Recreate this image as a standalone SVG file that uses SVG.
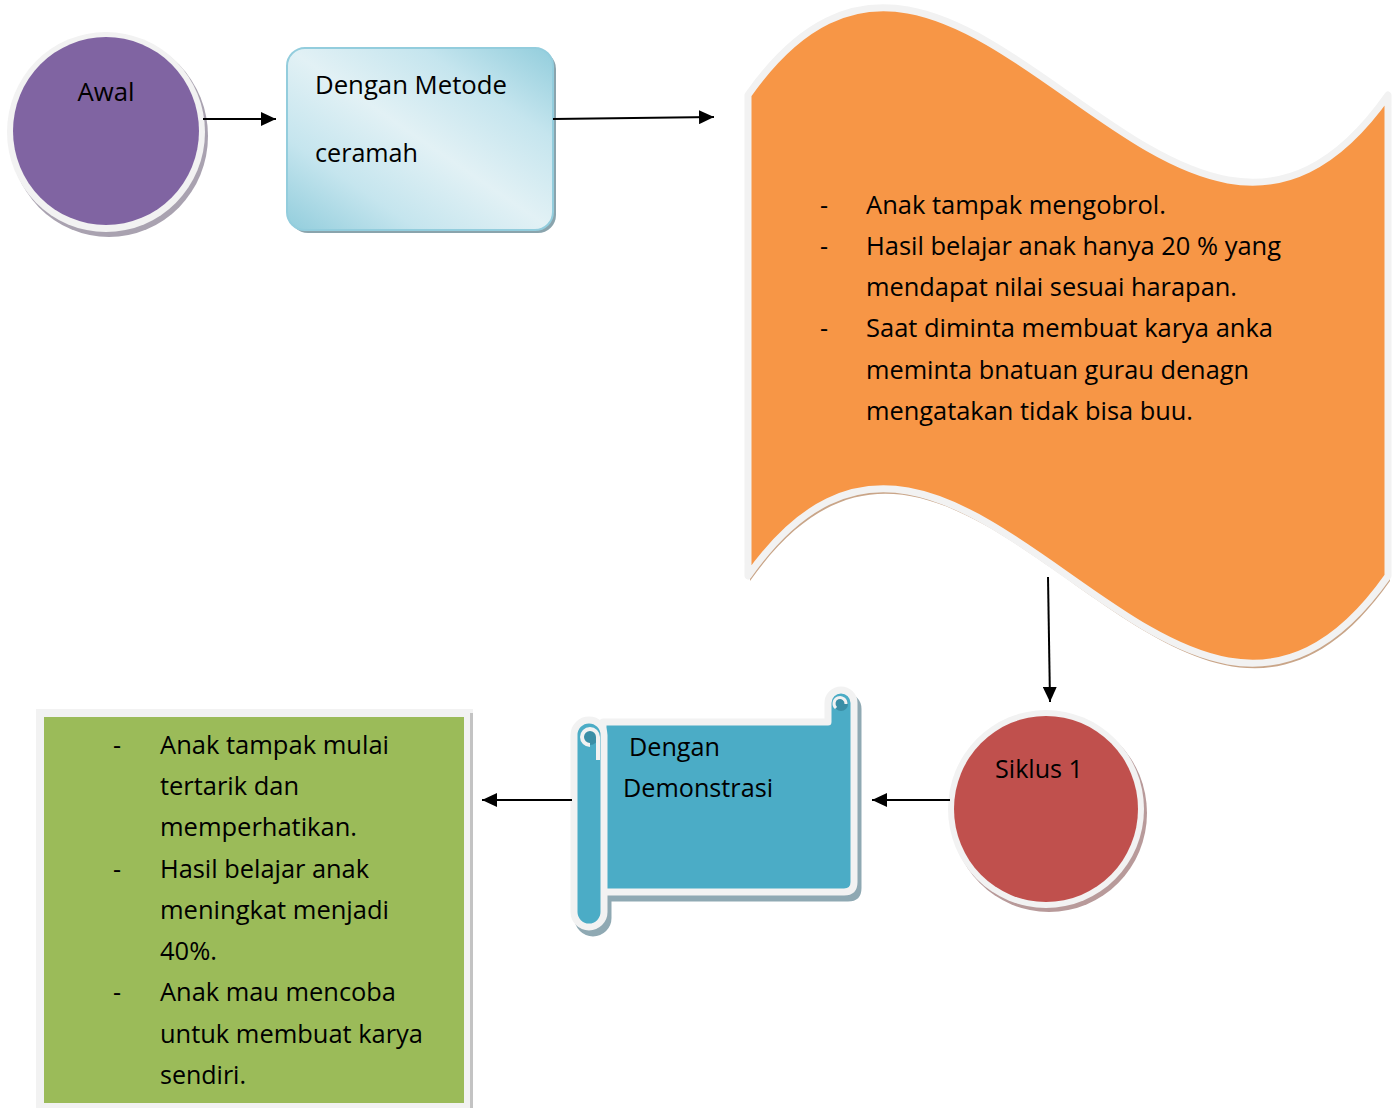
<svg xmlns="http://www.w3.org/2000/svg" width="1397" height="1108" viewBox="0 0 1397 1108">
<style>
text{font-family:"Open Sans","Liberation Sans",sans-serif;font-size:25px;fill:#000}
.conn{stroke:#000;stroke-width:2;fill:none}
</style>
<defs>
<marker id="ah" markerUnits="userSpaceOnUse" markerWidth="16" markerHeight="14" refX="15" refY="7" orient="auto">
<path d="M0,0 L15,7 L0,14 Z" fill="#000"/>
</marker>
<linearGradient id="bg" x1="0" y1="1" x2="1" y2="0">
<stop offset="0" stop-color="#92cddc"/>
<stop offset="0.25" stop-color="#c5e5ee"/>
<stop offset="0.5" stop-color="#e2f1f5"/>
<stop offset="0.75" stop-color="#c5e5ee"/>
<stop offset="1" stop-color="#92cddc"/>
</linearGradient>
</defs>
<rect width="1397" height="1108" fill="#fff"/>

<g id="awal">
<ellipse cx="109" cy="136" rx="99" ry="101" fill="#a9a2b0"/>
<ellipse cx="106" cy="132" rx="99" ry="100" fill="#f2f2f2"/>
<ellipse cx="106" cy="131" rx="93" ry="94" fill="#8064a2"/>
<text x="106" y="101" text-anchor="middle" textLength="57" lengthAdjust="spacingAndGlyphs">Awal</text>
</g>

<g id="ceramah">
<rect x="290" y="51" width="266" height="182" rx="18" fill="#8aa4ad"/>
<rect x="287" y="48" width="266" height="182" rx="18" fill="url(#bg)" stroke="#93cddd" stroke-width="2"/>
<text x="315" y="94" textLength="192" lengthAdjust="spacingAndGlyphs">Dengan Metode</text>
<text x="315" y="162" textLength="103" lengthAdjust="spacingAndGlyphs">ceramah</text>
</g>

<g id="hasil-awal">
<path d="M748,95 C961,-207 1175,397 1388,95 L1388,576 C1175,878 961,274 748,576 Z" transform="translate(2,5)" fill="#c9a588"/>
<path d="M748,95 C961,-207 1175,397 1388,95 L1388,576 C1175,878 961,274 748,576 Z" fill="#f79646" stroke="#f2f2f2" stroke-width="7" stroke-linejoin="round"/>
<text x="820" y="214">-</text>
<text x="866" y="214" textLength="300" lengthAdjust="spacingAndGlyphs">Anak tampak mengobrol.</text>
<text x="820" y="255">-</text>
<text x="866" y="255" textLength="415" lengthAdjust="spacingAndGlyphs">Hasil belajar anak hanya 20 % yang</text>
<text x="866" y="296" textLength="371" lengthAdjust="spacingAndGlyphs">mendapat nilai sesuai harapan.</text>
<text x="820" y="337">-</text>
<text x="866" y="337" textLength="407" lengthAdjust="spacingAndGlyphs">Saat diminta membuat karya anka</text>
<text x="866" y="379" textLength="383" lengthAdjust="spacingAndGlyphs">meminta bnatuan gurau denagn</text>
<text x="866" y="420" textLength="327" lengthAdjust="spacingAndGlyphs">mengatakan tidak bisa buu.</text>
</g>

<g id="siklus1">
<ellipse cx="1049" cy="813" rx="98" ry="99" fill="#b89a9a"/>
<ellipse cx="1046" cy="809" rx="98" ry="99" fill="#f2f2f2"/>
<ellipse cx="1046" cy="809" rx="92" ry="93" fill="#c0504d"/>
<text x="1039" y="778" text-anchor="middle" textLength="88" lengthAdjust="spacingAndGlyphs">Siklus 1</text>
</g>

<g id="demonstrasi">
<g transform="translate(4,6)" fill="#8fa9b3" stroke="#8fa9b3" stroke-width="7" stroke-linejoin="round">
<path d="M603,722 L828,722 L828,703 A13,13 0 0 1 854,703 L854,882 Q854,892 844,892 L603,892 Z"/>
<rect x="574" y="720" width="30" height="207" rx="15"/>
</g>
<path d="M603,722 L828,722 L828,703 A13,13 0 0 1 854,703 L854,882 Q854,892 844,892 L603,892 Z" fill="#4bacc6" stroke="#f2f2f2" stroke-width="7" stroke-linejoin="round"/>
<rect x="574" y="720" width="30" height="207" rx="15" fill="#4bacc6" stroke="#f2f2f2" stroke-width="7"/>
<path d="M828,722 L828,706" stroke="#f2f2f2" stroke-width="4"/>
<circle cx="841" cy="704" r="7" fill="#3a8ea6"/>
<path d="M836,708 A6,6 0 1 1 846,704" fill="none" stroke="#f2f2f2" stroke-width="3"/>
<circle cx="590" cy="737" r="8" fill="#3a8ea6"/>
<path d="M598,760 L598,737 A8,8 0 1 0 590,745" fill="none" stroke="#f2f2f2" stroke-width="4"/>
<text x="629" y="756" textLength="91" lengthAdjust="spacingAndGlyphs">Dengan</text>
<text x="623" y="797" textLength="150" lengthAdjust="spacingAndGlyphs">Demonstrasi</text>
</g>

<g id="hasil-siklus1">
<rect x="36" y="709" width="437" height="399" fill="#f2f2f2"/>
<rect x="470" y="713" width="3" height="395" fill="#c3c3c3"/>
<rect x="44" y="717" width="420" height="386" fill="#9bbb59"/>
<text x="113" y="754">-</text>
<text x="160" y="754" textLength="229" lengthAdjust="spacingAndGlyphs">Anak tampak mulai</text>
<text x="160" y="795" textLength="139" lengthAdjust="spacingAndGlyphs">tertarik dan</text>
<text x="160" y="836" textLength="197" lengthAdjust="spacingAndGlyphs">memperhatikan.</text>
<text x="113" y="878">-</text>
<text x="160" y="878" textLength="209" lengthAdjust="spacingAndGlyphs">Hasil belajar anak</text>
<text x="160" y="919" textLength="229" lengthAdjust="spacingAndGlyphs">meningkat menjadi</text>
<text x="160" y="960" textLength="57" lengthAdjust="spacingAndGlyphs">40%.</text>
<text x="113" y="1001">-</text>
<text x="160" y="1001" textLength="236" lengthAdjust="spacingAndGlyphs">Anak mau mencoba</text>
<text x="160" y="1043" textLength="263" lengthAdjust="spacingAndGlyphs">untuk membuat karya</text>
<text x="160" y="1084" textLength="86" lengthAdjust="spacingAndGlyphs">sendiri.</text>
</g>

<g id="connectors">
<line class="conn" x1="203" y1="119" x2="276" y2="119" marker-end="url(#ah)"/>
<line class="conn" x1="553" y1="119" x2="714" y2="117" marker-end="url(#ah)"/>
<line class="conn" x1="1048" y1="577" x2="1050" y2="702" marker-end="url(#ah)"/>
<line class="conn" x1="950" y1="800" x2="872" y2="800" marker-end="url(#ah)"/>
<line class="conn" x1="572" y1="800" x2="482" y2="800" marker-end="url(#ah)"/>
</g>
</svg>
